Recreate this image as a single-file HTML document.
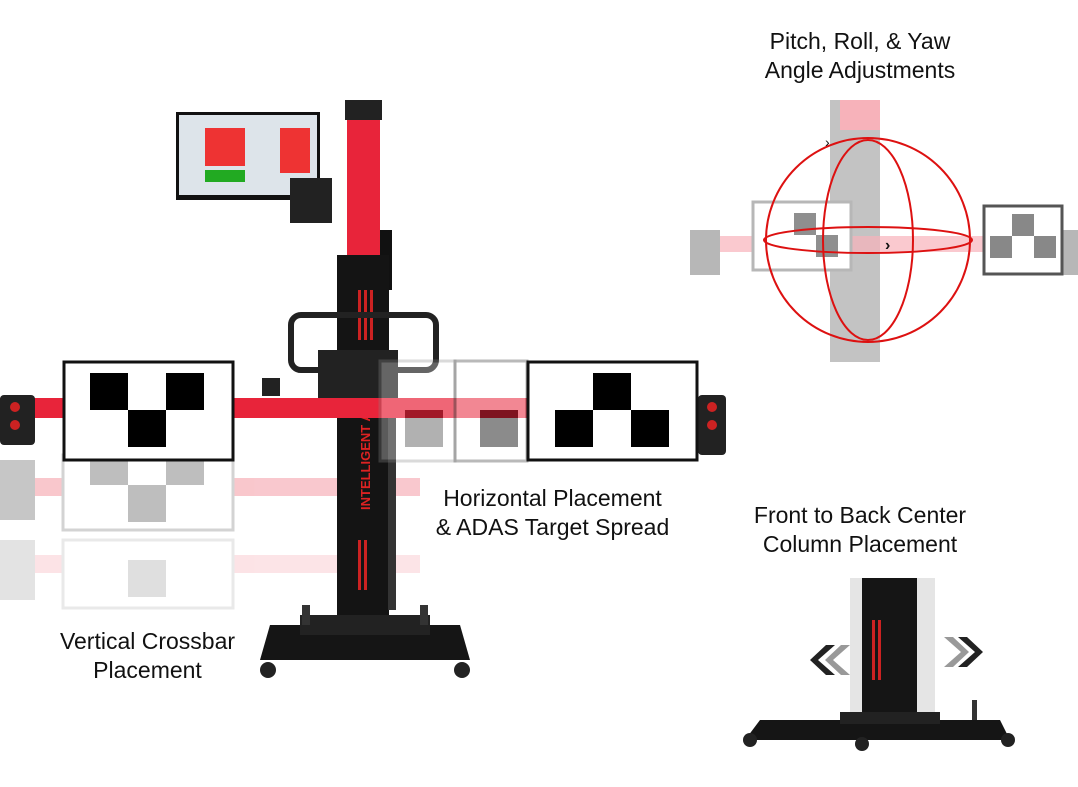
<!DOCTYPE html>
<html><head><meta charset="utf-8"><style>
body{margin:0;width:1078px;height:787px;background:#fff;overflow:hidden;position:relative;font-family:"Liberation Sans",sans-serif}
.t{position:absolute;font-size:23px;color:#111;text-align:center;line-height:29px}
</style></head><body>
<svg width="1078" height="787" style="position:absolute;left:0;top:0">
<!-- ghost targets (vertical) -->
<g opacity="0.25">
<rect x="0" y="478" width="420" height="18" fill="#e8243a"/>
<rect x="63" y="455" width="170" height="75" fill="#fff" stroke="#555" stroke-width="3"/>
<rect x="90" y="460" width="38" height="25" fill="#000"/><rect x="166" y="460" width="38" height="25" fill="#000"/><rect x="128" y="485" width="38" height="37" fill="#000"/>
<rect x="0" y="460" width="35" height="60" fill="#222"/>
</g>
<g opacity="0.12">
<rect x="0" y="555" width="420" height="18" fill="#e8243a"/>
<rect x="63" y="540" width="170" height="68" fill="#fff" stroke="#555" stroke-width="3"/>
<rect x="128" y="560" width="38" height="37" fill="#000"/>
<rect x="0" y="540" width="35" height="60" fill="#222"/>
</g>
<!-- monitor -->
<rect x="176" y="112" width="144" height="88" fill="#111"/>
<rect x="179" y="115" width="138" height="80" fill="#dde4ea"/>
<rect x="205" y="128" width="40" height="38" fill="#e33"/><rect x="280" y="128" width="30" height="45" fill="#e33"/>
<rect x="205" y="170" width="40" height="12" fill="#2a2"/>
<rect x="290" y="178" width="42" height="45" fill="#222"/>
<!-- column -->
<rect x="347" y="100" width="33" height="158" fill="#e8243a"/>
<rect x="345" y="100" width="37" height="20" fill="#222"/>
<rect x="380" y="230" width="12" height="60" fill="#111"/>
<rect x="337" y="255" width="52" height="385" fill="#141414"/>
<rect x="358" y="290" width="3" height="50" fill="#c22"/><rect x="364" y="290" width="3" height="50" fill="#c22"/><rect x="370" y="290" width="3" height="50" fill="#c22"/>
<rect x="358" y="540" width="3" height="50" fill="#c22"/><rect x="364" y="540" width="3" height="50" fill="#c22"/>
<text x="370" y="510" transform="rotate(-90 370 510)" fill="#d22" font-size="13" font-weight="bold">INTELLIGENT A</text>
<rect x="291" y="315" width="145" height="55" rx="10" fill="none" stroke="#222" stroke-width="6"/>
<rect x="318" y="350" width="80" height="60" fill="#222"/>
<rect x="388" y="410" width="8" height="200" fill="#333"/>
<!-- crossbar -->
<rect x="0" y="398" width="720" height="20" fill="#e8243a"/>
<rect x="0" y="395" width="35" height="50" rx="4" fill="#222"/>
<circle cx="15" cy="407" r="5" fill="#c22"/><circle cx="15" cy="425" r="5" fill="#c22"/>
<rect x="698" y="395" width="28" height="60" rx="4" fill="#222"/>
<circle cx="712" cy="407" r="5" fill="#c22"/><circle cx="712" cy="425" r="5" fill="#c22"/>
<rect x="262" y="378" width="18" height="18" fill="#222"/>
<!-- ghost right targets -->
<g opacity="0.3"><rect x="380" y="361" width="75" height="100" fill="#fff" stroke="#888" stroke-width="3"/><rect x="405" y="410" width="38" height="37" fill="#000"/></g>
<g opacity="0.45"><rect x="455" y="361" width="72" height="100" fill="#fff" stroke="#666" stroke-width="3"/><rect x="480" y="410" width="38" height="37" fill="#000"/></g>
<!-- left target -->
<rect x="64" y="362" width="169" height="98" fill="#fff" stroke="#111" stroke-width="3"/>
<rect x="90" y="373" width="38" height="37" fill="#000"/><rect x="166" y="373" width="38" height="37" fill="#000"/><rect x="128" y="410" width="38" height="37" fill="#000"/>
<!-- right target -->
<rect x="528" y="362" width="169" height="98" fill="#fff" stroke="#111" stroke-width="3"/>
<rect x="555" y="410" width="38" height="37" fill="#000"/><rect x="593" y="373" width="38" height="37" fill="#000"/><rect x="631" y="410" width="38" height="37" fill="#000"/>
<!-- base -->
<path d="M270 625 L460 625 L470 660 L260 660 Z" fill="#151515"/>
<rect x="300" y="615" width="130" height="20" fill="#222"/>
<circle cx="268" cy="670" r="8" fill="#222"/><circle cx="462" cy="670" r="8" fill="#222"/>
<rect x="302" y="605" width="8" height="20" fill="#333"/><rect x="420" y="605" width="8" height="20" fill="#333"/>
<!-- top right -->
<g opacity="0.35">
<rect x="830" y="100" width="50" height="262" fill="#555"/>
<rect x="840" y="100" width="40" height="30" fill="#e8243a"/>
<rect x="690" y="236" width="380" height="16" fill="#e8243a" opacity="0.7"/>
<rect x="753" y="202" width="98" height="68" fill="#fff" stroke="#333" stroke-width="3"/>
<rect x="690" y="230" width="30" height="45" fill="#333"/><rect x="1060" y="230" width="18" height="45" fill="#333"/>
</g>
<rect x="794" y="213" width="22" height="22" fill="#444" opacity="0.6"/><rect x="816" y="235" width="22" height="22" fill="#444" opacity="0.6"/>
<rect x="984" y="206" width="78" height="68" fill="#fff" stroke="#555" stroke-width="3"/>
<rect x="1012" y="214" width="22" height="22" fill="#888"/><rect x="990" y="236" width="22" height="22" fill="#888"/><rect x="1034" y="236" width="22" height="22" fill="#888"/>
<g fill="none" stroke="#d11" stroke-width="2">
<ellipse cx="868" cy="240" rx="102" ry="102"/>
<ellipse cx="868" cy="240" rx="45" ry="100"/>
<ellipse cx="868" cy="240" rx="104" ry="13"/>
</g>
<text x="825" y="147" font-size="14" fill="#111">›</text>
<text x="885" y="250" font-size="16" fill="#111" font-weight="bold">›</text>
<!-- bottom right -->
<rect x="850" y="578" width="85" height="140" fill="#ccc" opacity="0.5"/>
<rect x="862" y="578" width="55" height="140" fill="#151515"/>
<rect x="872" y="620" width="3" height="60" fill="#c22"/><rect x="878" y="620" width="3" height="60" fill="#c22"/>
<path d="M760 720 L1000 720 L1010 740 L745 740 Z" fill="#151515"/>
<rect x="840" y="712" width="100" height="12" fill="#222"/>
<circle cx="750" cy="740" r="7" fill="#222"/><circle cx="862" cy="744" r="7" fill="#222"/><circle cx="1008" cy="740" r="7" fill="#222"/>
<rect x="972" y="700" width="5" height="20" fill="#333"/>
<path d="M835 645 L818 660 L835 675 L826 675 L810 660 L826 645Z" fill="#222"/>
<path d="M850 645 L833 660 L850 675 L841 675 L825 660 L841 645Z" fill="#999"/>
<path d="M944 637 L961 652 L944 667 L953 667 L969 652 L953 637Z" fill="#999"/>
<path d="M958 637 L975 652 L958 667 L967 667 L983 652 L967 637Z" fill="#222"/>
</svg>
<div class="t" style="left:740px;top:27px;width:240px">Pitch, Roll, &amp; Yaw<br>Angle Adjustments</div>
<div class="t" style="left:420px;top:484px;width:265px">Horizontal Placement<br>&amp; ADAS Target Spread</div>
<div class="t" style="left:730px;top:501px;width:260px">Front to Back Center<br>Column Placement</div>
<div class="t" style="left:40px;top:627px;width:215px">Vertical Crossbar<br>Placement</div>
</body></html>
